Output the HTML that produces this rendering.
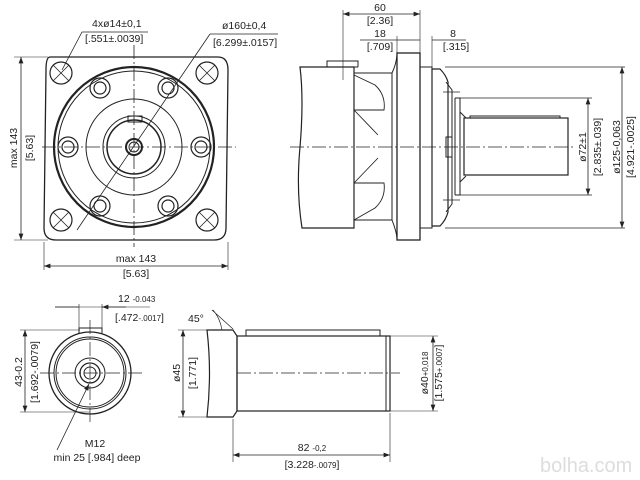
<!DOCTYPE html>
<html><head><style>body{margin:0;background:#fff}svg{display:block}text{font-family:"Liberation Sans",sans-serif;fill:#222}</style></head><body>
<svg width="640" height="480" viewBox="0 0 640 480" xmlns="http://www.w3.org/2000/svg">
<defs><marker id="a" markerWidth="8" markerHeight="6" refX="8" refY="3" orient="auto-start-reverse"><path d="M0,0L8,3L0,6z" fill="#222"/></marker></defs>
<g fill="none" stroke="#222" stroke-width="1">
<!-- front view -->
<path d="M50,57 L218,57 Q228,57 228,70 L226,228 Q226,240 214,240 L56,240 Q44,240 44,228 L46,70 Q46,57 50,57Z" stroke-width="1.3"/>
<circle cx="134" cy="147" r="80" stroke-width="2.2"/>
<circle cx="134" cy="147" r="76"/>
<circle cx="134" cy="147" r="48"/>
<circle cx="134" cy="147" r="31"/>
<circle cx="134" cy="147" r="27" stroke-width="1.5"/>
<circle cx="134" cy="147" r="8" stroke-width="2"/>
<circle cx="134" cy="147" r="5"/>
<rect x="128" y="116" width="14" height="6"/>
<g stroke-width="1.2">
<circle cx="61" cy="73" r="11"/><circle cx="207" cy="73" r="11"/><circle cx="61" cy="220" r="11"/><circle cx="207" cy="220" r="11"/>
<path d="M53,65L69,81M69,65L53,81M199,65L215,81M215,65L199,81M53,212L69,228M69,212L53,228M199,212L215,228M215,212L199,228" stroke-width=".8"/>
<circle cx="100" cy="88" r="10"/><circle cx="100" cy="88" r="6"/>
<circle cx="168" cy="88" r="10"/><circle cx="168" cy="88" r="6"/>
<circle cx="68" cy="147" r="10"/><circle cx="68" cy="147" r="6"/>
<circle cx="201" cy="147" r="10"/><circle cx="201" cy="147" r="6"/>
<circle cx="100" cy="206" r="10"/><circle cx="100" cy="206" r="6"/>
<circle cx="168" cy="206" r="10"/><circle cx="168" cy="206" r="6"/>
</g>
<path d="M42,147H236M134,45V247" stroke-width=".8" stroke-dasharray="14,3,2,3"/>
<path d="M82,32H148M82,32L62,70M210,34H278M210,34L77,230" stroke-width=".8"/>
<path d="M21,57V240" marker-start="url(#a)" marker-end="url(#a)" stroke-width=".8"/>
<path d="M14,57H48M14,240H48M44,242V270M228,242V270" stroke-width=".6"/>
<path d="M44,266H228" marker-start="url(#a)" marker-end="url(#a)" stroke-width=".8"/>
<!-- side view -->
<path d="M300,67 Q304,100 300,147 Q296,190 302,228 H354 V67Z" stroke-width="1.2"/>
<path d="M327,67V61H358V67M322,67H358" />
<path d="M354,73H392V220H354" />
<path d="M354,75 L375,85 Q386,95 384,110 L354,110M354,220L375,208Q386,198 384,183L354,183M354,110L378,135M354,183L378,158" stroke-width=".9"/>
<path d="M392,73 Q396,65 397,55M392,220 Q396,230 397,238"/>
<rect x="397" y="53" width="23" height="187" stroke-width="1.3"/>
<rect x="420" y="67" width="12" height="161"/>
<path d="M432,69H440Q446,75 448,82V212Q446,220 440,226H432Z" stroke-width="1.2"/>
<path d="M446,82L452,90V204L446,212"/>
<rect x="446" y="137" width="6" height="20"/>
<path d="M443,92H460M443,200H460" stroke-width=".7"/>
<path d="M455,98V195M455,98H460V195H455M460,112Q466,118 466,118M460,182L466,176"/>
<rect x="464" y="118" width="104" height="57" stroke-width="1.2"/>
<rect x="470" y="116" width="90" height="2"/>
<path d="M460,98H592M460,195H592M445,67H625M445,228H625" stroke-width=".7"/>
<path d="M290,147H575" stroke-width=".7" stroke-dasharray="14,3,2,3"/>
<path d="M588,98V195" marker-start="url(#a)" marker-end="url(#a)" stroke-width=".8"/>
<path d="M622,67V228" marker-start="url(#a)" marker-end="url(#a)" stroke-width=".8"/>
<path d="M343,10V80M420,10V53M432,36V67M397,36V53" stroke-width=".6"/>
<path d="M343,14H420" marker-start="url(#a)" marker-end="url(#a)" stroke-width=".8"/>
<path d="M360,40H420M432,40H466" stroke-width=".8"/>
<!-- end view bottom -->
<circle cx="90" cy="373" r="41" stroke-width="1.3"/>
<circle cx="90" cy="373" r="36"/>
<circle cx="90" cy="373" r="34"/>
<circle cx="90" cy="373" r="15"/>
<circle cx="90" cy="373" r="10" stroke-width="1.3"/>
<circle cx="90" cy="373" r="6"/>
<path d="M79,333V328H102V333"/>
<path d="M40,373H145M90,320V425" stroke-width=".7" stroke-dasharray="14,3,2,3"/>
<path d="M79,304V328M102,304V328M55,307H150" stroke-width=".6"/>
<path d="M55,307H79M126,307H102" marker-end="url(#a)" stroke-width=".8"/>
<path d="M25,330V412" marker-start="url(#a)" marker-end="url(#a)" stroke-width=".8"/>
<path d="M20,330H80M20,412H90" stroke-width=".6"/>
<path d="M57,450L89,384" marker-end="url(#a)" stroke-width=".8"/>
<!-- shaft side -->
<path d="M207,330Q212,373 207,417H233L237,411V336L233,330Z" stroke-width="1.2"/>
<rect x="237" y="336" width="153" height="75" stroke-width="1.2"/>
<rect x="246" y="330" width="134" height="6"/>
<path d="M386,336V411"/>
<path d="M237,373H400" stroke-width=".7" stroke-dasharray="14,3,2,3"/>
<path d="M183,330V417" marker-start="url(#a)" marker-end="url(#a)" stroke-width=".8"/>
<path d="M178,330H207M178,417H207M390,336H438M390,411H438M233,419V462M390,413V462" stroke-width=".6"/>
<path d="M433,336V411" marker-start="url(#a)" marker-end="url(#a)" stroke-width=".8"/>
<path d="M233,455H390" marker-start="url(#a)" marker-end="url(#a)" stroke-width=".8"/>
<path d="M233,329L212,310M213,310Q220,318 222,330" stroke-width=".7"/>
</g>
<g font-size="10.5">
<text x="92" y="27">4xø14±0,1</text>
<text x="85" y="42">[.551±.0039]</text>
<text x="222" y="29">ø160±0,4</text>
<text x="213" y="46">[6.299±.0157]</text>
<text transform="translate(17,148) rotate(-90)" text-anchor="middle">max 143</text>
<text transform="translate(33,148) rotate(-90)" text-anchor="middle">[5.63]</text>
<text x="136" y="262" text-anchor="middle">max 143</text>
<text x="136" y="277" text-anchor="middle">[5.63]</text>
<text x="380" y="11" text-anchor="middle">60</text>
<text x="380" y="24" text-anchor="middle">[2.36]</text>
<text x="380" y="37" text-anchor="middle">18</text>
<text x="380" y="50" text-anchor="middle">[.709]</text>
<text x="453" y="37" text-anchor="middle">8</text>
<text x="456" y="50" text-anchor="middle">[.315]</text>
<text transform="translate(586,147) rotate(-90)" text-anchor="middle">ø72±1</text>
<text transform="translate(601,147) rotate(-90)" text-anchor="middle">[2.835±.039]</text>
<text transform="translate(620,147) rotate(-90)" text-anchor="middle">ø125-0,063</text>
<text transform="translate(634,147) rotate(-90)" text-anchor="middle">[4.921-.0025]</text>
<text x="118" y="302">12 <tspan font-size="8">-0.043</tspan></text>
<text x="115" y="321">[.472<tspan font-size="8">-.0017</tspan>]</text>
<text transform="translate(22,372) rotate(-90)" text-anchor="middle">43-0.2</text>
<text transform="translate(38,372) rotate(-90)" text-anchor="middle">[1.692-.0079]</text>
<text x="95" y="447" text-anchor="middle">M12</text>
<text x="97" y="461" text-anchor="middle">min 25 [.984] deep</text>
<text x="188" y="322">45°</text>
<text transform="translate(180,373) rotate(-90)" text-anchor="middle">ø45</text>
<text transform="translate(196,373) rotate(-90)" text-anchor="middle">[1.771]</text>
<text transform="translate(428,373) rotate(-90)" text-anchor="middle">ø40<tspan font-size="8">+0,018</tspan></text>
<text transform="translate(442,373) rotate(-90)" text-anchor="middle">[1.575<tspan font-size="8">+.0007</tspan>]</text>
<text x="312" y="451" text-anchor="middle">82 <tspan font-size="8">-0,2</tspan></text>
<text x="312" y="468" text-anchor="middle">[3.228<tspan font-size="8">-.0079</tspan>]</text>
</g>
<text x="540" y="472" font-size="20" style="fill:#ddd">bolha.com</text>
</svg>
</body></html>
